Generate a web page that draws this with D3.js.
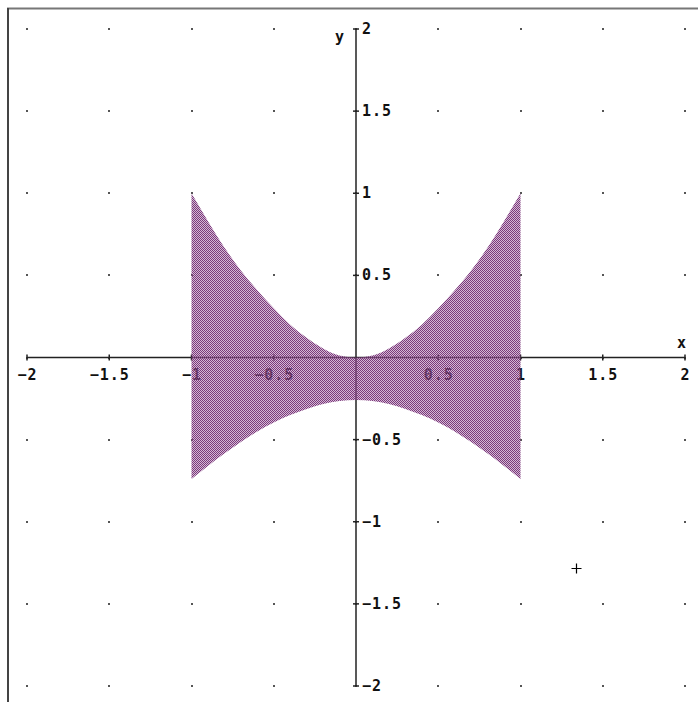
<!DOCTYPE html>
<html>
<head>
<meta charset="utf-8">
<script src="https://cdn.jsdelivr.net/npm/d3@7"></script>
<style>
  html, body { margin: 0; padding: 0; background: #fff; overflow: hidden; }
  text { font-family: "DejaVu Sans Mono", monospace; font-weight: bold; font-size: 15px; letter-spacing: 1px; fill: #111; }
</style>
</head>
<body>
<script>
// values
var regionX     = [-1, -0.9, -0.8, -0.7, -0.6, -0.5, -0.4, -0.3, -0.2, -0.1, 0, 0.1, 0.2, 0.3, 0.4, 0.5, 0.6, 0.7, 0.8, 0.9, 1];
var regionUpper = [1.00, 0.83, 0.67, 0.53, 0.41, 0.30, 0.20, 0.12, 0.055, 0.012, 0, 0.012, 0.055, 0.12, 0.20, 0.30, 0.41, 0.53, 0.67, 0.83, 1.00];
var regionLower = [-0.74, -0.66, -0.585, -0.515, -0.45, -0.395, -0.35, -0.313, -0.283, -0.265, -0.258, -0.265, -0.283, -0.313, -0.35, -0.395, -0.45, -0.515, -0.585, -0.66, -0.74];

var xTicks = [-2, -1.5, -1, -0.5, 0, 0.5, 1, 1.5, 2];
var yTicks = [-2, -1.5, -1, -0.5, 0, 0.5, 1, 1.5, 2];
var xLabels = ["-2", "-1.5", "-1", "-0.5", "", "0.5", "1", "1.5", "2"];
var yLabels = ["-2", "-1.5", "-1", "-0.5", "", "0.5", "1", "1.5", "2"];
var cursorPoint = [1.335, -1.28];

var width = 698, height = 702;

var x = d3.scaleLinear().domain([-2, 2]).range([27, 685]);
var y = d3.scaleLinear().domain([-2, 2]).range([686, 29]);

var svg = d3.select('body').append('svg')
  .attr('width', width)
  .attr('height', height);

// dithered purple fill
var pat = svg.append('defs').append('pattern')
  .attr('id', 'dither')
  .attr('patternUnits', 'userSpaceOnUse')
  .attr('width', 2).attr('height', 2);
pat.append('rect').attr('width', 2).attr('height', 2)
  .attr('fill', '#a060a0').attr('fill-opacity', 0.45);
pat.append('rect').attr('x', 0).attr('y', 0).attr('width', 1).attr('height', 1).attr('fill', '#7a3a7a');
pat.append('rect').attr('x', 1).attr('y', 1).attr('width', 1).attr('height', 1).attr('fill', '#7a3a7a');

// window frame
svg.append('line').attr('x1', 7).attr('x2', width).attr('y1', 8.5).attr('y2', 8.5)
  .attr('stroke', '#777').attr('stroke-width', 2);
svg.append('line').attr('x1', 8).attr('x2', 8).attr('y1', 8).attr('y2', height)
  .attr('stroke', '#444').attr('stroke-width', 2);

// grid dots
var grid = [];
xTicks.forEach(function(a) { yTicks.forEach(function(b) { grid.push([a, b]); }); });
svg.append('g').selectAll('rect')
  .data(grid)
  .enter().append('rect')
  .attr('x', function(d) { return Math.round(x(d[0])) - 1; })
  .attr('y', function(d) { return Math.round(y(d[1])) - 1; })
  .attr('width', 2).attr('height', 2)
  .attr('fill', '#555');

// axes
var ax = svg.append('g').attr('stroke', '#222').attr('stroke-width', 1.5);
ax.append('line').attr('x1', x(-2)).attr('x2', x(2)).attr('y1', y(0)).attr('y2', y(0));
ax.append('line').attr('x1', x(0)).attr('x2', x(0)).attr('y1', y(2)).attr('y2', y(-2));
ax.selectAll('.xt').data(xTicks.filter(function(d) { return d !== 0; }))
  .enter().append('line')
  .attr('x1', function(d) { return x(d); }).attr('x2', function(d) { return x(d); })
  .attr('y1', y(0) - 3).attr('y2', y(0) + 3);
ax.selectAll('.yt').data(yTicks.filter(function(d) { return d !== 0; }))
  .enter().append('line')
  .attr('x1', x(0) - 3).attr('x2', x(0) + 3)
  .attr('y1', function(d) { return y(d); }).attr('y2', function(d) { return y(d); });

svg.append('g').selectAll('text')
  .data(xTicks)
  .enter().append('text')
  .attr('x', function(d) { return x(d) + 0.5; })
  .attr('y', y(0) + 22)
  .attr('text-anchor', 'middle')
  .text(function(d, i) { return xLabels[i].replace('-', '\u2212'); });

svg.append('g').selectAll('text')
  .data(yTicks)
  .enter().append('text')
  .attr('x', x(0) + 6)
  .attr('y', function(d) { return y(d) + 5; })
  .text(function(d, i) { return yLabels[i].replace('-', '\u2212'); });

svg.append('text').attr('x', 682).attr('y', 348).attr('text-anchor', 'middle').text('x');
svg.append('text').attr('x', 340).attr('y', 42).attr('text-anchor', 'middle').text('y');

// shaded region
var area = d3.area()
  .x(function(d, i) { return x(regionX[i]); })
  .y0(function(d, i) { return y(regionLower[i]); })
  .y1(function(d, i) { return y(regionUpper[i]); })
  .curve(d3.curveMonotoneX);

svg.append('path')
  .datum(regionX)
  .attr('d', area)
  .attr('fill', 'url(#dither)');

// mouse cursor cross
var cx = Math.round(x(cursorPoint[0])) + 0.5, cy = Math.round(y(cursorPoint[1])) + 0.5;
svg.append('path')
  .attr('d', 'M' + (cx - 5) + ',' + cy + 'H' + (cx + 5) + 'M' + cx + ',' + (cy - 5) + 'V' + (cy + 5))
  .attr('stroke', '#000').attr('stroke-width', 1.2);
</script>
</body>
</html>
